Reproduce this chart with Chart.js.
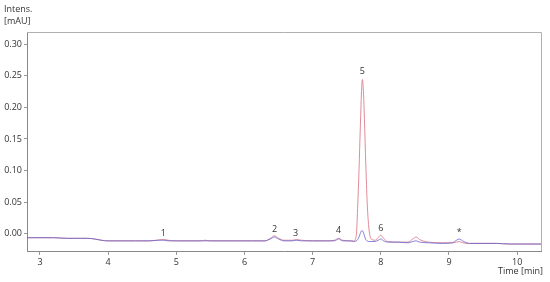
<!DOCTYPE html>
<html>
<head>
  <title>Chromatogram</title>
  <script src="https://cdn.jsdelivr.net/npm/chart.js"></script>
  <style>
    html, body { margin: 0; padding: 0; background: #fff; }
    #wrap { width: 550px; height: 282px; }
  </style>
</head>
<body>
  <div id="wrap"><canvas id="chrom"></canvas></div>

  <script>
    // retention time [min]
    const times = [2.8, 3.0, 3.2, 3.4, 3.6, 3.7, 3.8, 3.9, 4.0, 4.2, 4.4, 4.6, 4.72, 4.78, 4.82, 4.88,
      5.0, 5.2, 5.35, 5.42, 5.5, 5.7, 5.9, 6.1, 6.3, 6.38, 6.44, 6.5, 6.58, 6.7, 6.76, 6.84,
      7.0, 7.2, 7.32, 7.38, 7.44, 7.55, 7.6, 7.64, 7.66, 7.68, 7.7, 7.72, 7.73, 7.745, 7.76,
      7.78, 7.8, 7.82, 7.84, 7.87, 7.92, 7.96, 8.0, 8.04, 8.1, 8.25, 8.4, 8.47, 8.52, 8.57,
      8.7, 8.9, 9.05, 9.11, 9.15, 9.2, 9.3, 9.5, 9.7, 9.9, 10.1, 10.35];

    // intensity [mAU], red trace
    const redTrace = [-0.006, -0.006, -0.006, -0.007, -0.007, -0.007, -0.008, -0.010, -0.011, -0.011, -0.011, -0.011, -0.010, -0.009, -0.009, -0.010,
      -0.011, -0.011, -0.011, -0.010, -0.011, -0.011, -0.011, -0.011, -0.011, -0.007, -0.003, -0.007, -0.010, -0.010, -0.009, -0.010,
      -0.011, -0.011, -0.010, -0.007, -0.010, -0.011, -0.011, -0.003, 0.04, 0.10, 0.17, 0.232, 0.244, 0.225, 0.18,
      0.11, 0.05, 0.015, -0.002, -0.009, -0.010, -0.006, -0.002, -0.007, -0.012, -0.013, -0.013, -0.008, -0.005, -0.009,
      -0.013, -0.014, -0.014, -0.013, -0.012, -0.014, -0.015, -0.015, -0.015, -0.016, -0.016, -0.016];

    // intensity [mAU], blue trace
    const blueTrace = [-0.006, -0.006, -0.006, -0.007, -0.007, -0.007, -0.008, -0.010, -0.011, -0.011, -0.011, -0.011, -0.010, -0.010, -0.010, -0.011,
      -0.011, -0.011, -0.011, -0.011, -0.011, -0.011, -0.011, -0.011, -0.011, -0.008, -0.005, -0.008, -0.011, -0.011, -0.010, -0.011,
      -0.011, -0.011, -0.011, -0.008, -0.011, -0.011, -0.012, -0.011, -0.009, -0.005, 0.001, 0.005, 0.005, 0.002, -0.003,
      -0.009, -0.011, -0.012, -0.012, -0.012, -0.012, -0.010, -0.008, -0.011, -0.013, -0.013, -0.014, -0.012, -0.011, -0.013,
      -0.014, -0.015, -0.014, -0.010, -0.008, -0.011, -0.015, -0.015, -0.015, -0.016, -0.016, -0.016];

    // peak labels
    const peakNames = ["1", "2", "3", "4", "5", "6", "*"];
    const peakTimes = [4.81, 6.44, 6.75, 7.38, 7.73, 8.0, 9.15];
    const peakLabelY = [-0.003, 0.003, -0.003, 0.002, 0.252, 0.005, -0.002];

    const xTicks = [3, 4, 5, 6, 7, 8, 9, 10];
    const yTicks = [0.00, 0.05, 0.10, 0.15, 0.20, 0.25, 0.30];

    const font = "'Open Sans', 'DejaVu Sans', sans-serif";
    const textColor = "#333";

    const pts = arr => arr.map((v, i) => ({ x: times[i], y: v }));

    // frame, axis titles and peak numbers
    const decor = {
      id: "decor",
      afterDraw(chart) {
        const { ctx, chartArea: a, scales } = chart;
        ctx.save();
        ctx.strokeStyle = "#b0b0b0";
        ctx.lineWidth = 1;
        ctx.beginPath();
        ctx.moveTo(a.left, a.top + 0.5);
        ctx.lineTo(a.right + 0.5, a.top + 0.5);
        ctx.lineTo(a.right + 0.5, a.bottom);
        ctx.stroke();

        ctx.fillStyle = textColor;
        ctx.font = "9px " + font;
        ctx.textAlign = "left";
        ctx.textBaseline = "alphabetic";
        ctx.fillText("Intens.", 4, 12);
        ctx.fillText("[mAU]", 4, 24);
        ctx.textAlign = "right";
        ctx.fillText("Time [min]", a.right + 2, 274);

        ctx.textAlign = "center";
        peakNames.forEach((n, i) => {
          ctx.fillText(n, scales.x.getPixelForValue(peakTimes[i]), scales.y.getPixelForValue(peakLabelY[i]));
        });
        ctx.restore();
      }
    };

    new Chart(document.getElementById("chrom"), {
      type: "line",
      data: {
        datasets: [
          {
            label: "blue",
            data: pts(blueTrace),
            borderColor: "rgba(105, 100, 205, 0.8)",
            borderWidth: 1,
            pointRadius: 0,
            cubicInterpolationMode: "monotone"
          },
          {
            label: "red",
            data: pts(redTrace),
            borderColor: "rgba(218, 120, 135, 0.85)",
            borderWidth: 1,
            pointRadius: 0,
            cubicInterpolationMode: "monotone"
          }
        ]
      },
      options: {
        responsive: true,
        maintainAspectRatio: false,
        animation: false,
        layout: { padding: { top: 32, right: 9, left: 0, bottom: 0 } },
        plugins: {
          legend: { display: false },
          tooltip: { enabled: false }
        },
        scales: {
          x: {
            type: "linear",
            min: 2.81,
            max: 10.35,
            afterBuildTicks: s => { s.ticks = xTicks.map(v => ({ value: v })); },
            afterFit: s => { s.height = 31; },
            border: { color: "#888", width: 1 },
            grid: { drawOnChartArea: false, tickLength: 4, color: "#999" },
            ticks: {
              color: textColor,
              font: { size: 9, family: font },
              padding: 2,
              maxRotation: 0,
              callback: v => String(v)
            }
          },
          y: {
            min: -0.027,
            max: 0.319,
            afterBuildTicks: s => { s.ticks = yTicks.map(v => ({ value: v })); },
            afterFit: s => { s.width = 27; },
            border: { color: "#888", width: 1 },
            grid: { drawOnChartArea: false, tickLength: 3, color: "#999" },
            ticks: {
              color: textColor,
              font: { size: 9, family: font },
              padding: 2,
              callback: v => v.toFixed(2)
            }
          }
        }
      },
      plugins: [decor]
    });
  </script>
</body>
</html>
